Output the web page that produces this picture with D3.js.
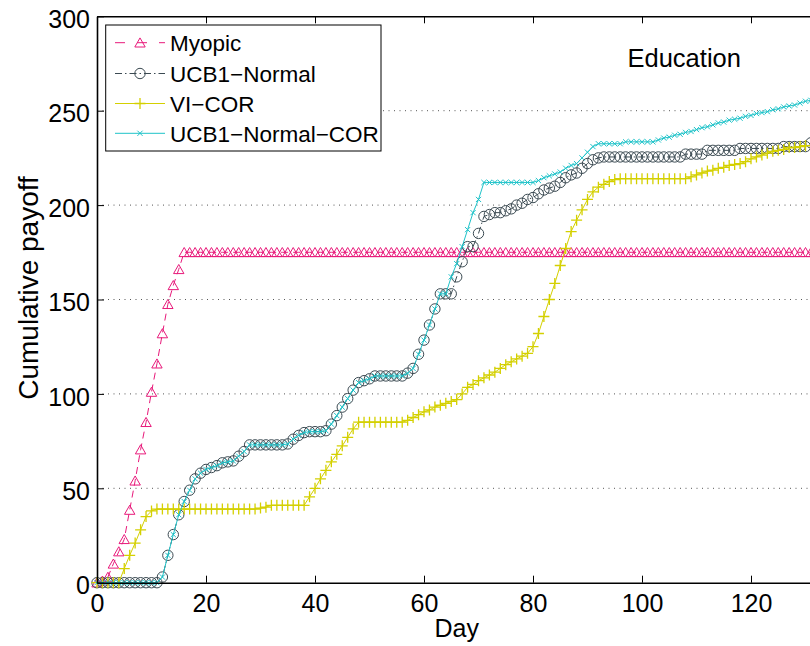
<!DOCTYPE html>
<html>
<head>
<meta charset="utf-8">
<script src="https://cdn.jsdelivr.net/npm/d3@7"></script>
<style>
  body { margin: 0; background: #fff; }
  svg { display: block; font-family: "Liberation Sans", Arial, Helvetica, sans-serif; }
</style>
</head>
<body>
<svg id="chart" width="810" height="646"></svg>
<script>
// Axis ticks
const xTicks = [0, 20, 40, 60, 80, 100, 120];
const yTicks = [0, 50, 100, 150, 200, 250, 300];

// Series names as shown in the legend
const seriesNames = ["Myopic", "UCB1\u2212Normal", "VI\u2212COR", "UCB1\u2212Normal\u2212COR"];

// Cumulative payoff per day (day 0 .. 131)
const myopic = [
  0, 1, 3, 10, 16.5, 23, 38.5, 54, 70.5, 85, 101, 116, 132, 147.5, 157.5, 166,
  175, 175, 175, 175, 175, 175, 175, 175, 175, 175, 175, 175, 175, 175, 175, 175, 175, 175, 175, 175,
  175, 175, 175, 175, 175, 175, 175, 175, 175, 175, 175, 175, 175, 175, 175, 175, 175, 175, 175, 175,
  175, 175, 175, 175, 175, 175, 175, 175, 175, 175, 175, 175, 175, 175, 175, 175, 175, 175, 175, 175,
  175, 175, 175, 175, 175, 175, 175, 175, 175, 175, 175, 175, 175, 175, 175, 175, 175, 175, 175, 175,
  175, 175, 175, 175, 175, 175, 175, 175, 175, 175, 175, 175, 175, 175, 175, 175, 175, 175, 175, 175,
  175, 175, 175, 175, 175, 175, 175, 175, 175, 175, 175, 175, 175, 175, 175, 175
];

const ucb1Normal = [
  0, 0, 0, 0, 0, 0, 0, 0, 0, 0, 0, 0,
  3, 14.5, 25.5, 36, 43, 49, 55, 58, 60, 61, 62, 63.5, 64, 64.5, 67, 69.5, 73,
  73, 73, 73, 73, 73, 73, 73.5, 76, 78, 79.5, 80, 80, 80, 80.5, 84, 88.5, 93, 97.5, 102, 106, 107, 108, 109.5,
  109.5, 109.5, 109.5, 109.5, 109.5,
  111, 113.5, 121, 128.5, 136.5, 145, 153, 153, 153, 162, 170, 178, 178, 185, 194, 195, 196, 196, 197, 198,
  200, 201, 203, 204, 206, 208, 209, 210, 212, 214.5, 216, 217, 219.5, 222, 224, 225,
  225.5, 225.5, 225.5, 225.5, 225.5, 225.5, 225.5, 225.5, 225.5, 225.5, 225.5, 225.5, 225.5, 225.5, 225.5,
  227, 227, 227, 227,
  229, 229, 229, 229, 229, 229,
  230, 230, 230, 230, 230, 230, 230, 230,
  231, 231, 231, 231, 231,
  233
];

const viCor = [
  0, 0, 0, 0, 0,
  7.5, 14.5, 21, 28, 35, 38,
  39, 39, 39, 39, 39, 39, 39, 39, 39, 39, 39, 39, 39, 39, 39, 39, 39, 39, 39,
  39.5, 40,
  41, 41, 41, 41, 41, 41, 41,
  45.5, 50, 55, 59.5, 64, 68, 72.5, 77, 81.5,
  85, 85, 85, 85, 85, 85, 85, 85, 85,
  86, 87.5, 89, 90.5, 91.5, 93, 94, 95, 96, 97, 100, 103.5, 105, 107, 108.5, 110, 111.5, 113.5, 115.5, 117,
  118.5, 120, 121.5, 125, 132, 141, 150, 158.5, 168, 177, 186, 192, 197.5, 203, 207, 209.5, 211, 212.5, 213.5,
  214, 214, 214, 214, 214, 214, 214, 214, 214, 214, 214, 214, 214,
  215, 216, 217, 218, 218.5, 219.5, 220, 221, 221.5, 222, 223, 224.5, 225.5, 226.5, 227.5, 228.5, 229, 229.5,
  230.5, 230.5, 231, 231.5, 231.5
];

const ucb1NormalCor = [
  0, 0, 0, 0, 0, 0, 0, 0, 0, 0, 0, 0,
  3, 14.5, 25.5, 36, 43, 49, 55, 58, 60, 61, 62, 63.5, 64, 64.5, 67, 69.5, 73,
  73, 73, 73, 73, 73, 73, 73.5, 76, 78, 79.5, 80, 80, 80, 80.5, 84, 88.5, 93, 97.5, 102, 106, 107, 108, 109.5,
  109.5, 109.5, 109.5, 109.5, 109.5,
  111, 113.5, 121, 128.5, 136.5, 145, 153, 153,
  162, 169, 178, 187, 196, 203, 212,
  212, 212, 212, 212, 212, 212, 212, 212, 212,
  213, 214.5, 215.5, 216.5, 217.5, 219.5, 221, 222, 225, 228, 231,
  232.5, 232.5, 232.5, 232.5, 232.5,
  233.5, 233.5, 233.5, 233.5, 233.5, 233.5,
  234.5, 235.5, 236, 237, 237.5, 238.5, 239, 240, 241, 241.5, 242.5, 243.5, 244, 245, 245.5, 246, 247, 247.5,
  248.5, 249, 249.5, 250.5, 251, 252, 252.5, 253, 254, 255, 255.5
];

const seriesValues = [myopic, ucb1Normal, viCor, ucb1NormalCor];
const seriesColors = ["#e8197a", "#3b4a52", "#d4d000", "#1ec3c9"];
const seriesDash = ["7,5", "7,3,1.5,3", null, null];
const seriesMarker = ["triangle", "circle", "plus", "cross"];

const svg = d3.select("#chart");
const FONT = 25;

const x = d3.scaleLinear().domain([0, 132]).range([97, 816.4]);
const y = d3.scaleLinear().domain([0, 300]).range([582.7, 16.3]);

// horizontal dotted grid
svg.append("g").selectAll("line")
  .data(yTicks.filter(v => v > 0 && v < 300))
  .join("line")
  .attr("x1", x(0)).attr("x2", x(132))
  .attr("y1", d => y(d)).attr("y2", d => y(d))
  .attr("stroke", "#555").attr("stroke-width", 1)
  .attr("stroke-dasharray", "1,4.5");

// marker drawing helpers
function drawMarker(g, kind, color, px, py) {
  if (kind === "circle") {
    g.append("circle").attr("cx", px).attr("cy", py).attr("r", 5.2)
      .attr("fill", "none").attr("stroke", color).attr("stroke-width", 1);
  } else {
    let d;
    if (kind === "triangle") d = "M0,-4.8L5.2,4.3L-5.2,4.3Z";
    else if (kind === "plus") d = "M-5.5,0H5.5M0,-5.5V5.5";
    else d = "M-2.6,-2.6L2.6,2.6M-2.6,2.6L2.6,-2.6";
    g.append("path").attr("d", d)
      .attr("transform", `translate(${px},${py})`)
      .attr("fill", "none").attr("stroke", color)
      .attr("stroke-width", kind === "plus" ? 1.3 : 1);
  }
}

const line = d3.line().x((d, i) => x(i)).y(d => y(d));

seriesValues.forEach((vals, s) => {
  const g = svg.append("g");
  const path = g.append("path").datum(vals)
    .attr("d", line)
    .attr("fill", "none")
    .attr("stroke", seriesColors[s])
    .attr("stroke-width", 1);
  if (seriesDash[s]) path.attr("stroke-dasharray", seriesDash[s]);
  vals.forEach((v, i) => drawMarker(g, seriesMarker[s], seriesColors[s], x(i), y(v)));
});

// axes
function styleAxis(g) {
  g.attr("font-size", FONT).attr("font-family", null);
  g.select(".domain").attr("stroke", "#000").attr("stroke-width", 1.6);
  g.selectAll(".tick line").attr("stroke", "#000").attr("stroke-width", 1);
  g.selectAll(".tick text").attr("fill", "#000");
}

svg.append("g")
  .attr("transform", `translate(0,${y(0)})`)
  .call(d3.axisBottom(x).tickValues(xTicks).tickSizeInner(-7).tickSizeOuter(0).tickPadding(12))
  .call(styleAxis);

svg.append("g")
  .attr("transform", `translate(0,${y(300)})`)
  .call(d3.axisTop(x).tickValues(xTicks).tickSizeInner(-7).tickSizeOuter(0).tickFormat(() => ""))
  .call(styleAxis);

svg.append("g")
  .attr("transform", `translate(${x(0)},0)`)
  .call(d3.axisLeft(y).tickValues(yTicks).tickSizeInner(-7).tickSizeOuter(0).tickPadding(7))
  .call(styleAxis)
  .selectAll(".tick text").attr("dy", "0.45em");

// axis labels
svg.append("text")
  .attr("x", (x(0) + x(132)) / 2).attr("y", 637)
  .attr("text-anchor", "middle").attr("font-size", FONT)
  .text("Day");

svg.append("text")
  .attr("transform", "translate(38,288) rotate(-90)")
  .attr("text-anchor", "middle").attr("font-size", 28)
  .text("Cumulative payoff");

// panel title
svg.append("text")
  .attr("x", 627.5).attr("y", 66.5)
  .attr("font-size", 25.5)
  .text("Education");

// legend
const legend = svg.append("g");
legend.append("rect")
  .attr("x", 105.7).attr("y", 25).attr("width", 275.3).attr("height", 126)
  .attr("fill", "#fff").attr("stroke", "#000").attr("stroke-width", 1);

const rowY = [42.7, 73.5, 103.5, 133.3];
seriesNames.forEach((name, s) => {
  const ry = rowY[s];
  const l = legend.append("line")
    .attr("x1", 115).attr("x2", 165).attr("y1", ry).attr("y2", ry)
    .attr("stroke", seriesColors[s]).attr("stroke-width", 1);
  if (seriesDash[s]) l.attr("stroke-dasharray", s === 0 ? "10,12" : "7,3,1.5,3");
  drawMarker(legend, seriesMarker[s], seriesColors[s], 140, ry);
  legend.append("text")
    .attr("x", 170).attr("y", ry + 8.5)
    .attr("font-size", 22.5)
    .text(name);
});
</script>
</body>
</html>
